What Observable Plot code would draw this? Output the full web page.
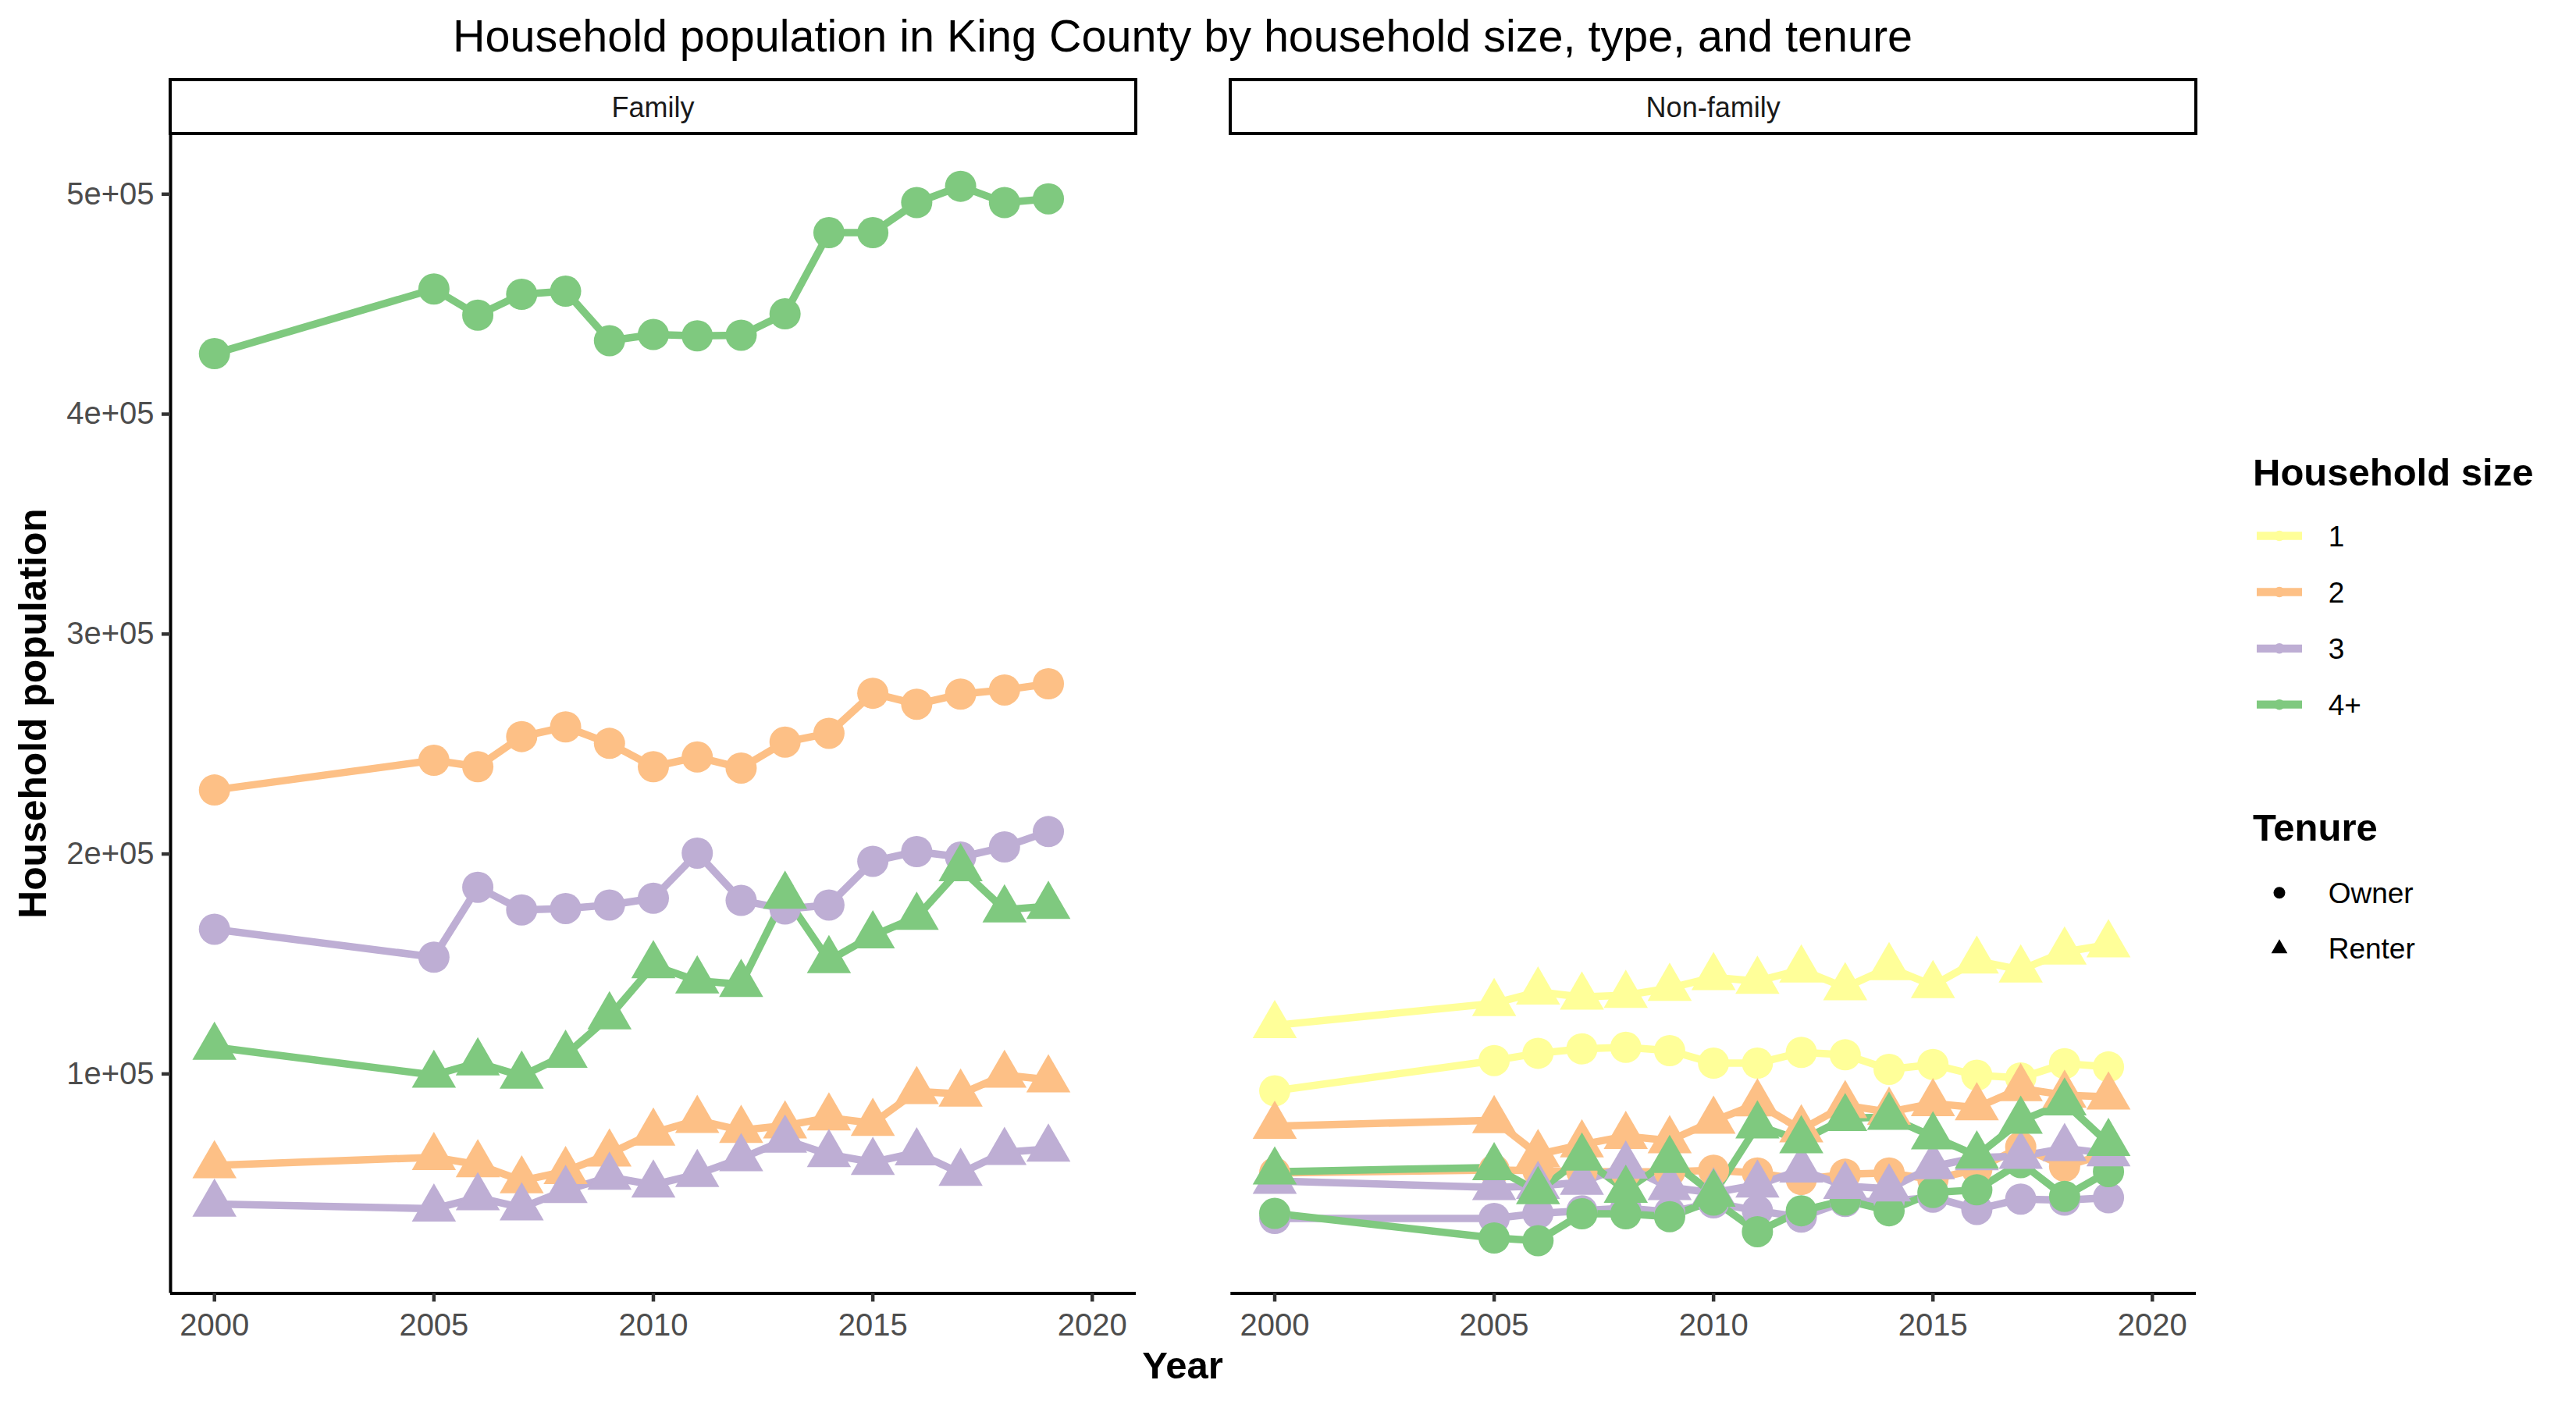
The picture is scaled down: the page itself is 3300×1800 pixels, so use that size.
<!DOCTYPE html>
<html><head><meta charset="utf-8">
<script src="https://cdn.jsdelivr.net/npm/d3@7"></script>
<script src="https://cdn.jsdelivr.net/npm/@observablehq/plot@0.6"></script>
<style>
html,body{margin:0;padding:0;background:#fff;}
#root{position:relative;width:3300px;height:1800px;overflow:hidden;font-family:"Liberation Sans",Arial,sans-serif;background:#fff;}
.abs{position:absolute;white-space:nowrap;line-height:1;}
</style></head><body><div id="root"></div>
<script>
// ---------------- data ----------------
const years = [2000, 2005, 2006, 2007, 2008, 2009, 2010, 2011, 2012, 2013, 2014, 2015, 2016, 2017, 2018, 2019];
const sizes = ["1", "2", "3", "4+"];
const sizeColors = ["#FFFF99", "#FDC086", "#BEAED4", "#7FC97F"];
const tenures = ["Owner", "Renter"];
const facets = ["Family", "Non-family"];
const xLimits = [2000, 2020];
const xTicks = [2000, 2005, 2010, 2015, 2020];
const yTicks = [100000, 200000, 300000, 400000, 500000];

// Family households
const famOwner2 = [229100, 242600, 239700, 253400, 257800, 250300, 239700, 244100, 239100, 250900, 254900, 273100, 268100, 272700, 274600, 277400];
const famOwner3 = [165800, 153100, 184900, 174600, 175200, 176800, 179900, 200400, 178900, 175000, 176800, 196700, 201100, 198600, 203200, 210200];
const famOwner4 = [427500, 456900, 445000, 454500, 455900, 433400, 436200, 435600, 435900, 445600, 482500, 482500, 496200, 503600, 496200, 497900];
const famRenter2 = [58400, 62100, 58800, 51500, 55700, 63700, 73200, 79000, 74400, 76500, 80100, 77600, 92100, 90900, 99500, 97400];
const famRenter3 = [40900, 38700, 43800, 39200, 47100, 53100, 49600, 54400, 61600, 70000, 63400, 59900, 64200, 54900, 64400, 65900];
const famRenter4 = [112200, 99500, 105100, 99100, 108600, 126100, 149300, 142400, 140800, 180900, 151600, 162900, 171300, 193400, 174700, 176300];

// Non-family households
const nonOwner1 = [92300, 106100, 109400, 111400, 112100, 110600, 104900, 104900, 109800, 108700, 102100, 104300, 99400, 98200, 104700, 103200];
const nonOwner2 = [55000, 56300, 56000, 55600, 55500, 55500, 56200, 55000, 52000, 54400, 55000, 52000, 56700, 66800, 58000, 63900];
const nonOwner3 = [34300, 34300, 36600, 37800, 39000, 37200, 41400, 37800, 34900, 42000, 42000, 44000, 38400, 43100, 42600, 43700];
const nonOwner4 = [36600, 25400, 24200, 36400, 36400, 35100, 42600, 28300, 37800, 42600, 37800, 46100, 47300, 59700, 44300, 55600];
const nonRenter1 = [122100, 132100, 137300, 135000, 135800, 139000, 143900, 142200, 147400, 139300, 148400, 140300, 151400, 147400, 155500, 158800];
const nonRenter2 = [76300, 78900, 63400, 67900, 71700, 69700, 78600, 86500, 74700, 85700, 82700, 86600, 84700, 93400, 90400, 89600];
const nonRenter3 = [51300, 48400, 49000, 50800, 58200, 48400, 46000, 49600, 56400, 49000, 47800, 57900, 62000, 62600, 66200, 63800];
const nonRenter4 = [55500, 57500, 46600, 61800, 47200, 60800, 45400, 76500, 69700, 79800, 80400, 71500, 62800, 78600, 86900, 68500];

// series table built from the arrays above
const seriesList = [
  ["Family", "Owner", "2", famOwner2], ["Family", "Owner", "3", famOwner3], ["Family", "Owner", "4+", famOwner4],
  ["Family", "Renter", "2", famRenter2], ["Family", "Renter", "3", famRenter3], ["Family", "Renter", "4+", famRenter4],
  ["Non-family", "Owner", "1", nonOwner1], ["Non-family", "Owner", "2", nonOwner2], ["Non-family", "Owner", "3", nonOwner3], ["Non-family", "Owner", "4+", nonOwner4],
  ["Non-family", "Renter", "1", nonRenter1], ["Non-family", "Renter", "2", nonRenter2], ["Non-family", "Renter", "3", nonRenter3], ["Non-family", "Renter", "4+", nonRenter4]
];
const rows = seriesList.flatMap(([facet, tenure, size, vals]) =>
  years.map((year, i) => ({facet, tenure, size, key: facet + "|" + tenure + "|" + size, year, value: vals[i]})));

// ggplot-like 5% expansion
const xSpan = xLimits[1] - xLimits[0];
const xDomain = [xLimits[0] - 0.05 * xSpan, xLimits[1] + 0.05 * xSpan];
const [yMin, yMax] = d3.extent(rows, d => d.value);
const yDomain = [yMin - 0.05 * (yMax - yMin), yMax + 0.05 * (yMax - yMin)];

const sci = d => {
  const [m, e] = d.toExponential(0).split("e");
  return m + "e" + e[0] + e.slice(1).padStart(2, "0");
};

// ---------------- layout ----------------
const root = document.getElementById("root");
const PANEL_TOP = 170.6, PANEL_BOTTOM = 1656.5, H = 1800;
const panels = [
  {facet: "Family", left: 0, width: 1470, ml: 218, mr: 15, yAxis: true},
  {facet: "Non-family", left: 1500, width: 1330, ml: 76.3, mr: 17, yAxis: false}
];

function addText(txt, {x, baseline, size, weight = "normal", color = "#000", anchor = "start"}) {
  const el = document.createElement("div");
  el.className = "abs";
  el.textContent = txt;
  el.style.fontSize = size + "px";
  el.style.fontWeight = weight;
  el.style.color = color;
  el.style.top = (baseline - 0.8465 * size) + "px";
  el.style.left = x + "px";
  if (anchor === "middle") el.style.transform = "translateX(-50%)";
  else if (anchor === "end") el.style.transform = "translateX(-100%)";
  root.appendChild(el);
  return el;
}

for (const p of panels) {
  const data = rows.filter(d => d.facet === p.facet);
  const owners = data.filter(d => d.tenure === "Owner").sort((a, b) => sizes.indexOf(a.size) - sizes.indexOf(b.size));
  const renters = data.filter(d => d.tenure === "Renter").sort((a, b) => sizes.indexOf(a.size) - sizes.indexOf(b.size));
  const marks = [
    Plot.line(data, {x: "year", y: "value", z: "key", stroke: "size", strokeWidth: 9.5, strokeLinejoin: "round", strokeLinecap: "butt"}),
    Plot.dot(owners, {x: "year", y: "value", fill: "size", r: 20, symbol: "circle"}),
    Plot.dot(renters, {x: "year", y: "value", fill: "size", r: 21, symbol: "triangle"}),
    Plot.ruleY([yDomain[0]], {stroke: "black", strokeWidth: 4}),
    Plot.axisX({ticks: xTicks, tickFormat: d => String(d), tickSize: 11, tickPadding: 15, fontSize: 40,
      stroke: "#333333", strokeWidth: 4.5, fill: "#4D4D4D", label: null})
  ];
  if (p.yAxis) {
    marks.push(Plot.ruleX([xDomain[0]], {stroke: "black", strokeWidth: 4}));
    marks.push(Plot.axisY({ticks: yTicks, tickFormat: sci, tickSize: 11, tickPadding: 10, fontSize: 40,
      stroke: "#333333", strokeWidth: 4.5, fill: "#4D4D4D", label: null}));
  }
  const chart = Plot.plot({
    width: p.width, height: H,
    marginLeft: p.ml, marginRight: p.mr, marginTop: PANEL_TOP, marginBottom: H - PANEL_BOTTOM,
    x: {domain: xDomain},
    y: {domain: yDomain, axis: p.yAxis ? undefined : null},
    color: {domain: sizes, range: sizeColors},
    style: {fontFamily: "'Liberation Sans', Arial, sans-serif", fontSize: "40px", background: "transparent", overflow: "visible"},
    marks
  });
  chart.style.position = "absolute";
  chart.style.left = p.left + "px";
  chart.style.top = "0px";
  root.appendChild(chart);

  // strip
  const x0 = p.left + p.ml, x1 = p.left + p.width - p.mr;
  const sw = 4.4;
  const strip = document.createElement("div");
  strip.style.cssText = `position:absolute;box-sizing:border-box;background:#fff;border:${sw}px solid #000;` +
    `left:${x0 - sw / 2}px;top:${102.2 - sw / 2}px;width:${x1 - x0 + sw}px;height:${PANEL_TOP - 102.2 + sw}px;`;
  root.appendChild(strip);
  addText(p.facet, {x: (x0 + x1) / 2, baseline: 150.7, size: 36, color: "#1A1A1A", anchor: "middle"});
}

// title and axis titles
addText("Household population in King County by household size, type, and tenure",
  {x: 1515, baseline: 66.7, size: 57.5, anchor: "middle"});
addText("Year", {x: 1515, baseline: 1766, size: 49, weight: "bold", anchor: "middle"});
{
  const el = document.createElement("div");
  el.className = "abs";
  el.textContent = "Household population";
  el.style.fontSize = "49.8px";
  el.style.fontWeight = "bold";
  el.style.left = (60.7 - 0.3465 * 49.8) + "px";
  el.style.top = (PANEL_TOP + PANEL_BOTTOM) / 2 + "px";
  el.style.transform = "translate(-50%,-50%) rotate(-90deg)";
  root.appendChild(el);
}

// ---------------- legend ----------------
const LX = 2850, LY = 550;
const leg = d3.select(root).append("svg")
  .attr("width", 450).attr("height", 750)
  .style("position", "absolute").style("left", LX + "px").style("top", LY + "px");
addText("Household size", {x: 2886, baseline: 622.3, size: 49, weight: "bold"});
const sizeRows = [686.5, 758.5, 830.8, 902.7];
sizes.forEach((s, i) => {
  const y = sizeRows[i] - LY;
  leg.append("line").attr("x1", 2891 - LX).attr("x2", 2949 - LX).attr("y1", y).attr("y2", y)
    .attr("stroke", sizeColors[i]).attr("stroke-width", 10.3);
  leg.append("circle").attr("cx", 2920 - LX).attr("cy", y).attr("r", 6.7).attr("fill", sizeColors[i]);
  addText(s, {x: 2982.7, baseline: sizeRows[i] + 13.5, size: 37});
});
addText("Tenure", {x: 2886, baseline: 1077.7, size: 49, weight: "bold"});
const tenureRows = [1143.8, 1215.2];
tenures.forEach((t, i) => {
  const y = tenureRows[i] - LY;
  const sym = i === 0 ? d3.symbolCircle : d3.symbolTriangle;
  const area = i === 0 ? Math.PI * 7.5 * 7.5 : Math.sqrt(3) / 4 * 20.7 * 20.7;
  leg.append("path").attr("d", d3.symbol(sym, area)()).attr("transform", `translate(${2920 - LX},${y})`).attr("fill", "#000");
  addText(t, {x: 2982.7, baseline: tenureRows[i] + 13.3, size: 37});
});
</script></body></html>
